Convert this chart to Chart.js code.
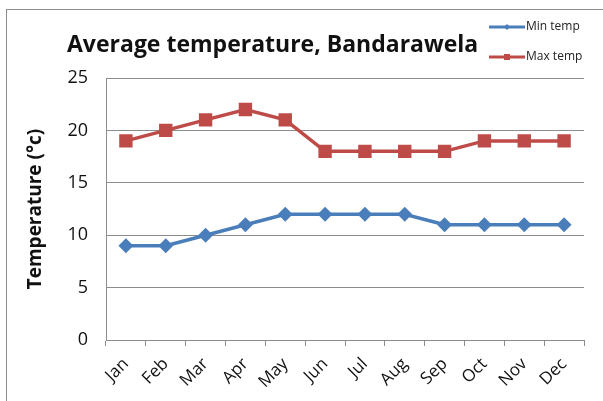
<!DOCTYPE html>
<html>
<head>
<meta charset="utf-8">
<script src="https://cdn.jsdelivr.net/npm/chart.js@4"></script>
<style>
  html, body { margin: 0; padding: 0; background: #fff; }
  #wrap { width: 603px; height: 401px; }
</style>
</head>
<body>
<div id="wrap"><canvas id="line-chart" width="603" height="401"></canvas></div>
<script>
// chart data
var months = ['Jan', 'Feb', 'Mar', 'Apr', 'May', 'Jun', 'Jul', 'Aug', 'Sep', 'Oct', 'Nov', 'Dec'];
var minTemp = [9, 9, 10, 11, 12, 12, 12, 12, 11, 11, 11, 11];
var maxTemp = [19, 20, 21, 22, 21, 18, 18, 18, 18, 19, 19, 19];
var yTicks = [0, 5, 10, 15, 20, 25];

var FONT = '"Open Sans", Lato, sans-serif';

// frame, title and legend drawn around the plot
var decor = {
  id: 'decor',
  beforeDraw: function(chart) {
    var ctx = chart.ctx;
    ctx.save();
    ctx.strokeStyle = '#8c8c8c';
    ctx.lineWidth = 1;
    ctx.strokeRect(6.5, 9.5, 700, 500);
    ctx.restore();
  },
  afterDraw: function(chart) {
    var ctx = chart.ctx;
    ctx.save();
    ctx.fillStyle = '#111';
    ctx.font = 'bold 23px ' + FONT;
    ctx.textAlign = 'left';
    ctx.textBaseline = 'alphabetic';
    ctx.fillText('Average temperature, Bandarawela', 67, 52);

    var rows = [27, 57];
    chart.data.datasets.forEach(function(ds, i) {
      var y = rows[i];
      ctx.strokeStyle = ds.borderColor;
      ctx.lineWidth = 3;
      ctx.beginPath();
      ctx.moveTo(489, y);
      ctx.lineTo(525, y);
      ctx.stroke();
      ctx.fillStyle = ds.borderColor;
      if (ds.pointStyle === 'rect') {
        ctx.fillRect(504, y - 3, 6, 6);
      } else {
        ctx.beginPath();
        ctx.moveTo(507, y - 3); ctx.lineTo(510, y); ctx.lineTo(507, y + 3); ctx.lineTo(504, y);
        ctx.closePath();
        ctx.fill();
      }
      ctx.fillStyle = '#222';
      ctx.font = '12px ' + FONT;
      ctx.textBaseline = 'middle';
      ctx.fillText(ds.label, 526, y);
    });
    ctx.restore();
  }
};

new Chart(document.getElementById('line-chart'), {
  type: 'line',
  data: {
    labels: months,
    datasets: [{
      label: 'Min temp',
      data: minTemp,
      borderColor: '#4a7ebb',
      backgroundColor: '#4a7ebb',
      borderWidth: 3.5,
      pointStyle: 'rectRot',
      pointRadius: 5,
      pointHoverRadius: 5,
      tension: 0
    }, {
      label: 'Max temp',
      data: maxTemp,
      borderColor: '#be4b48',
      backgroundColor: '#be4b48',
      borderWidth: 3.5,
      pointStyle: 'rect',
      pointRadius: 7,
      pointHoverRadius: 7,
      tension: 0
    }]
  },
  options: {
    responsive: false,
    animation: false,
    layout: { padding: { top: 78, right: 19, left: 0, bottom: 0 } },
    plugins: {
      legend: { display: false },
      title: { display: false },
      tooltip: { enabled: false }
    },
    scales: {
      x: {
        offset: true,
        afterFit: function(scale) { scale.height = 61; },
        grid: {
          offset: true,
          drawOnChartArea: false,
          drawTicks: true,
          tickLength: 6,
          color: '#8c8c8c'
        },
        border: { color: '#8c8c8c', width: 1 },
        ticks: {
          minRotation: 45,
          maxRotation: 45,
          padding: 8,
          color: '#111',
          font: { family: FONT, size: 17 }
        }
      },
      y: {
        min: 0,
        max: 25,
        afterFit: function(scale) { scale.width = 106; },
        afterBuildTicks: function(scale) {
          scale.ticks = yTicks.map(function(v) { return { value: v }; });
        },
        grid: { color: '#8c8c8c', drawTicks: false },
        border: { color: '#8c8c8c', width: 1 },
        ticks: {
          padding: 18,
          color: '#111',
          font: { family: FONT, size: 18 }
        },
        title: {
          display: true,
          text: 'Temperature (°c)',
          color: '#111',
          font: { family: FONT, size: 19, weight: 'bold' },
          padding: { top: 24, bottom: 0 }
        }
      }
    }
  },
  plugins: [decor]
});
</script>
</body>
</html>
